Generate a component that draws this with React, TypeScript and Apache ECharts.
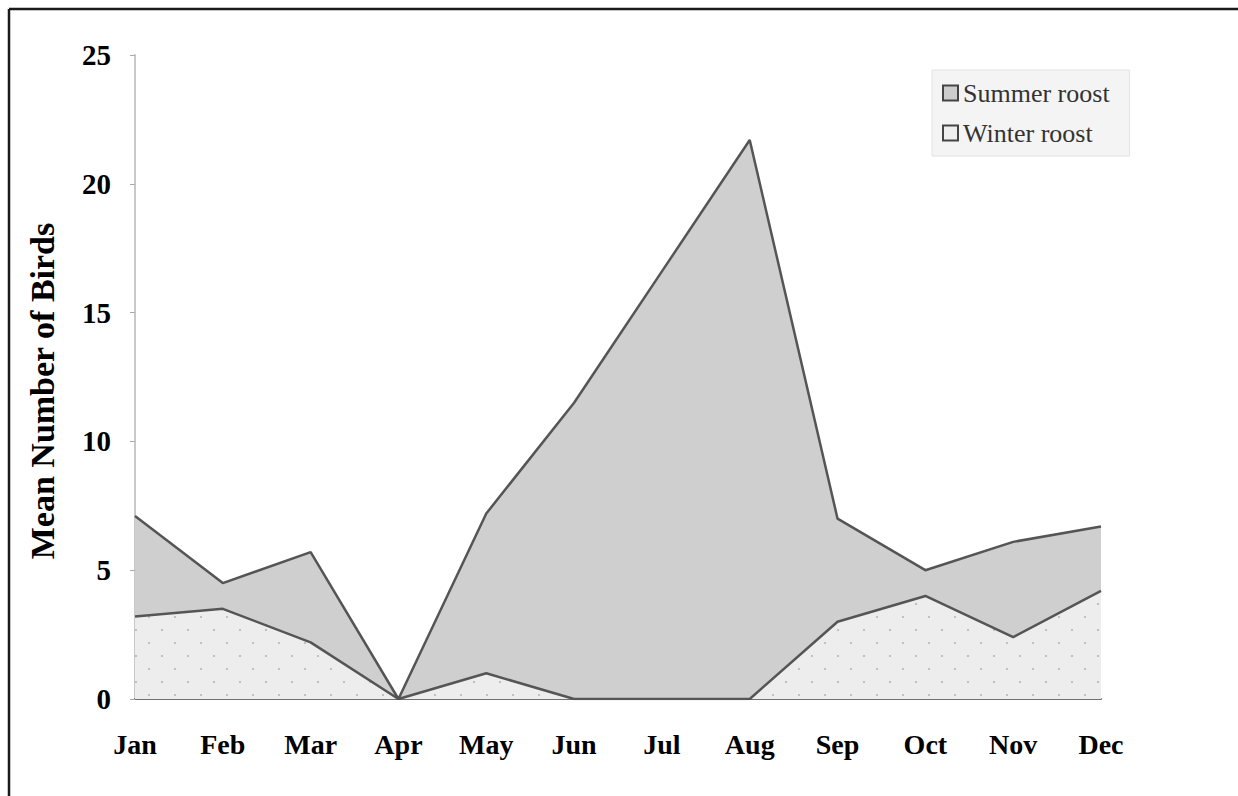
import React, { useEffect, useRef } from "react";
import * as echarts from "echarts";

const months = ["Jan", "Feb", "Mar", "Apr", "May", "Jun", "Jul", "Aug", "Sep", "Oct", "Nov", "Dec"];
const summerRoost = [7.1, 4.5, 5.7, 0, 7.2, 11.5, 16.6, 21.7, 7.0, 5.0, 6.1, 6.7];
const winterRoost = [3.2, 3.5, 2.2, 0, 1.0, 0, 0, 0, 3.0, 4.0, 2.4, 4.2];
const yTicks = { min: 0, max: 25, interval: 5 };

function makeDots(): any {
  const c = document.createElement("canvas");
  c.width = 26;
  c.height = 26;
  const ctx = c.getContext("2d");
  if (ctx) {
    ctx.fillStyle = "#ededed";
    ctx.fillRect(0, 0, 26, 26);
    ctx.fillStyle = "#b4b4b4";
    ctx.beginPath();
    ctx.arc(6, 6, 1.1, 0, Math.PI * 2);
    ctx.fill();
    ctx.beginPath();
    ctx.arc(19, 19, 1.1, 0, Math.PI * 2);
    ctx.fill();
  }
  return { image: c, repeat: "repeat" };
}

export default function App() {
  const ref = useRef<HTMLDivElement>(null);
  useEffect(() => {
    if (!ref.current) return;
    const chart = echarts.init(ref.current, undefined, { renderer: "svg" });
    const serif = "'Liberation Serif', 'DejaVu Serif', serif";
    chart.setOption({
      animation: false,
      backgroundColor: "#ffffff",
      grid: { left: 135, right: 137, top: 55, bottom: 97 },
      legend: {
        orient: "vertical",
        left: 932,
        top: 70,
        padding: [10, 20, 10, 10],
        itemGap: 14,
        itemWidth: 15,
        itemHeight: 15,
        backgroundColor: "#f4f4f4",
        borderColor: "#e2e2e2",
        borderWidth: 1,
        textStyle: { fontFamily: serif, fontSize: 26, color: "#333" },
        data: [
          { name: "Summer roost", icon: "rect", itemStyle: { color: "#cccccc", borderColor: "#444", borderWidth: 2 } },
          { name: "Winter roost", icon: "rect", itemStyle: { color: "#eeeeee", borderColor: "#444", borderWidth: 2 } },
        ],
      },
      xAxis: {
        type: "category",
        data: months,
        boundaryGap: false,
        axisLine: { lineStyle: { color: "#707070", width: 2 } },
        axisTick: { show: false },
        axisLabel: { fontFamily: serif, fontWeight: "bold", fontSize: 28, color: "#000", margin: 31 },
        splitLine: { show: false },
      },
      yAxis: {
        type: "value",
        min: yTicks.min,
        max: yTicks.max,
        interval: yTicks.interval,
        name: "Mean Number of Birds",
        nameLocation: "middle",
        nameGap: 76,
        nameTextStyle: { fontFamily: serif, fontWeight: "bold", fontSize: 34, color: "#000", padding: [0, 28, 0, 0] },
        axisLine: { show: true, lineStyle: { color: "#c8c8c8", width: 2 } },
        axisTick: { show: true, length: 5, lineStyle: { color: "#aaa" } },
        axisLabel: { fontFamily: serif, fontWeight: "bold", fontSize: 29, color: "#000", margin: 24 },
        splitLine: { show: false },
      },
      series: [
        {
          name: "Summer roost",
          type: "line",
          data: summerRoost,
          symbol: "none",
          lineStyle: { color: "#555", width: 2.5 },
          itemStyle: { color: "#cccccc" },
          areaStyle: { color: "#cfcfcf", opacity: 1 },
          z: 2,
        },
        {
          name: "Winter roost",
          type: "line",
          data: winterRoost,
          symbol: "none",
          lineStyle: { color: "#555", width: 2.5 },
          itemStyle: { color: "#eeeeee" },
          areaStyle: { color: makeDots(), opacity: 1 },
          z: 3,
        },
      ],
      graphic: [
        { type: "line", shape: { x1: 9, y1: 9, x2: 9, y2: 796 }, style: { stroke: "#1a1a1a", lineWidth: 2.5 } },
        { type: "line", shape: { x1: 9, y1: 9, x2: 1238, y2: 9 }, style: { stroke: "#1a1a1a", lineWidth: 2.5 } },
      ],
    });
    return () => chart.dispose();
  }, []);
  return (
    <div
      ref={ref}
      style={{ position: "fixed", left: 0, top: 0, width: 1238, height: 796 }}
    />
  );
}
